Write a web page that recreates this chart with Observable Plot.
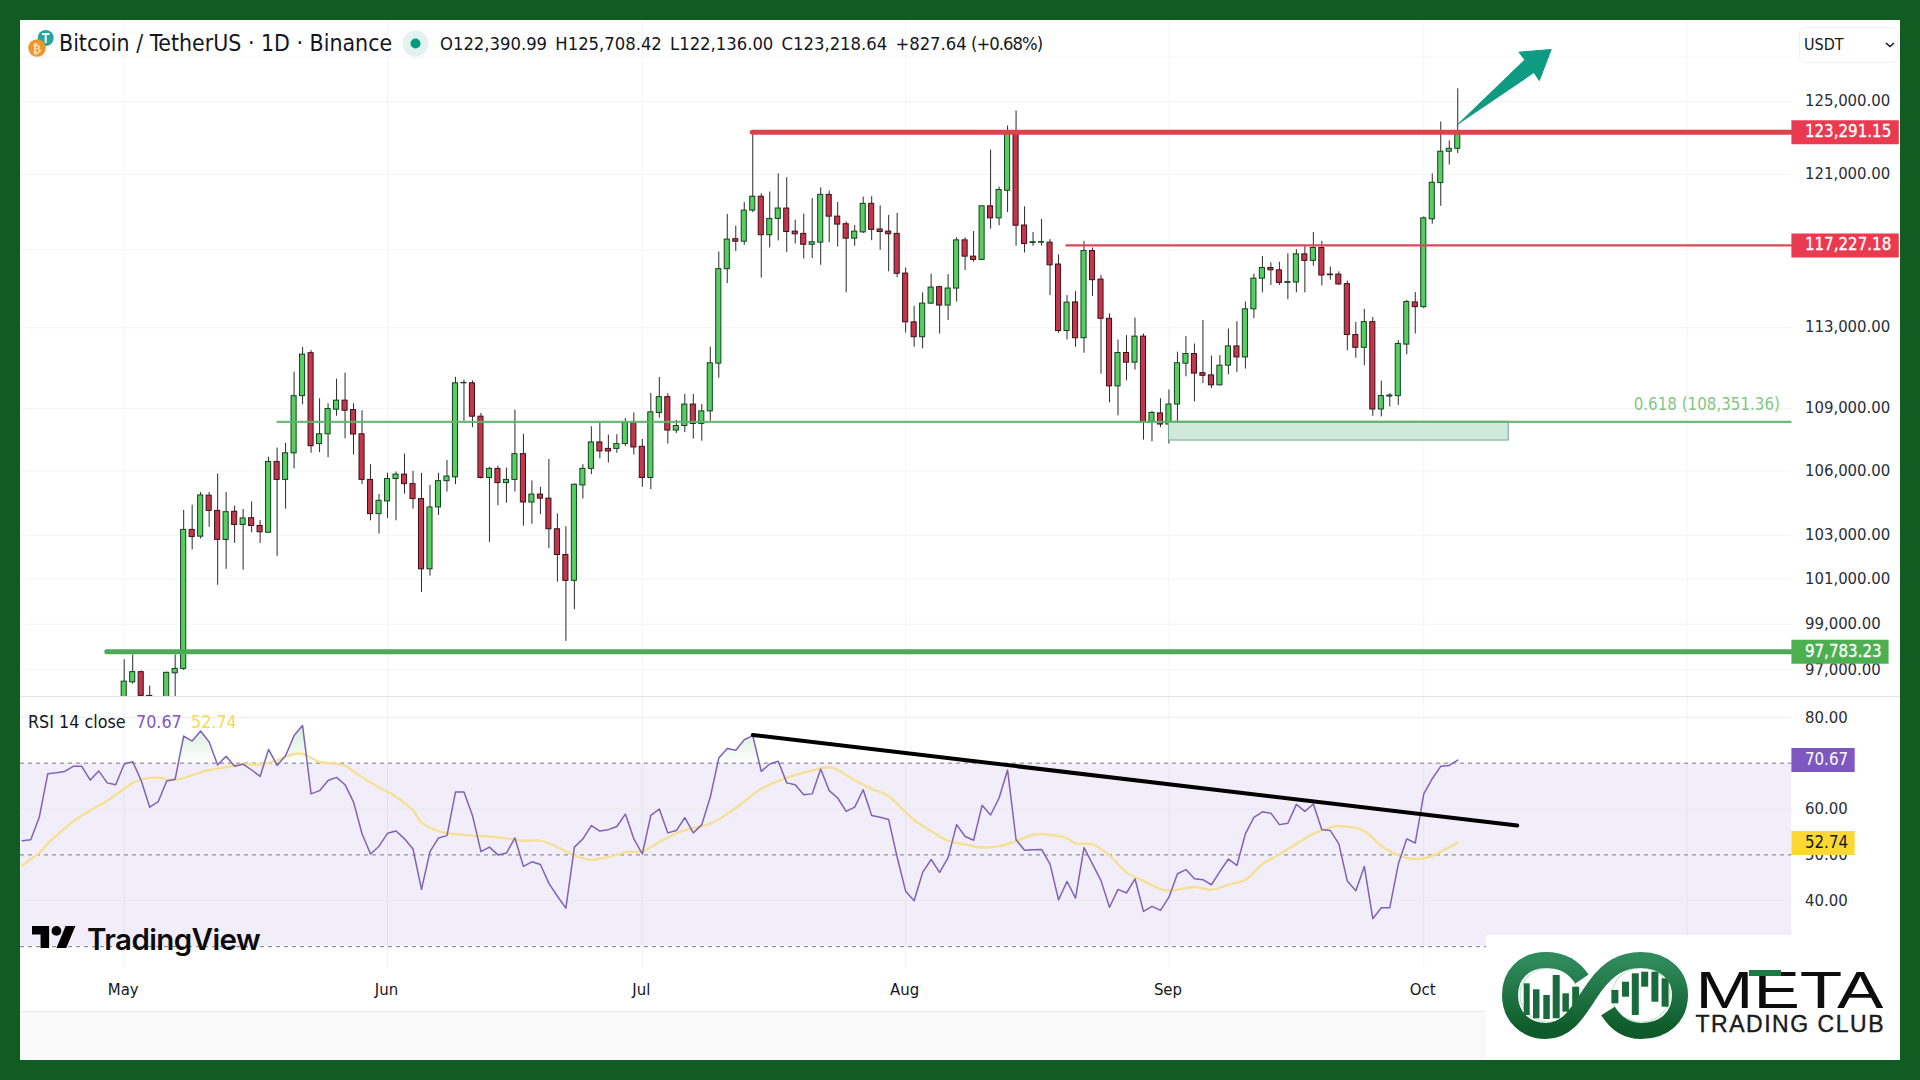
<!DOCTYPE html>
<html><head><meta charset="utf-8">
<script src="https://cdn.jsdelivr.net/npm/d3@7"></script>
<script src="https://cdn.jsdelivr.net/npm/@observablehq/plot@0.6"></script>
<style>
html,body{margin:0;padding:0;background:#115c21;}
#frame{position:relative;width:1920px;height:1080px;background:#115c21;overflow:hidden;font-family:'DejaVu Sans Condensed','DejaVu Sans',sans-serif;font-stretch:condensed;}
#panel{position:absolute;left:20px;top:20px;width:1880px;height:1040px;background:#fff;}
.abs{position:absolute;white-space:nowrap;}
#pricePane{position:absolute;left:20px;top:20px;}
#rsiPane{position:absolute;left:20px;top:697px;}
svg{display:block;}
</style></head><body>
<div id="frame">
  <div id="panel"></div>
  <div class="abs" style="left:20px;top:1011px;width:1880px;height:49px;background:#f9f9f9;border-top:1px solid #e9e9e9;box-sizing:border-box;"></div>
  <div id="pricePane"></div>
  <div id="rsiPane"></div>
  <div class="abs" style="left:20px;top:696px;width:1880px;height:1px;background:#e4e4e4;"></div>

  <svg class="abs" style="left:24px;top:28px;" width="36" height="36" viewBox="0 0 36 36">
    <circle cx="21.7" cy="10" r="8" fill="#26a69a"/><path d="M18 6h7.5M21.7 6v9" stroke="#fff" stroke-width="2"/>
    <circle cx="13" cy="20" r="8.8" fill="#f0952c"/><text x="13" y="24.5" text-anchor="middle" font-size="12" font-weight="bold" fill="#fbe0b8" font-family="DejaVu Sans">₿</text>
  </svg>
  <div class="abs" style="left:59px;top:29px;font-size:22.9px;line-height:28px;color:#131722;">Bitcoin / TetherUS · 1D · Binance</div>
  <svg class="abs" style="left:402px;top:30px;" width="27" height="27"><circle cx="13.5" cy="13.5" r="13" fill="#e3f1ef"/><circle cx="13.5" cy="13.5" r="5" fill="#089981"/></svg>
  <div class="abs" style="left:440px;top:32px;font-size:18.3px;line-height:24px;color:#131722;word-spacing:3px;">O122,390.99 H125,708.42 L122,136.00 C123,218.64 +827.64<span style="letter-spacing:-.95px;margin-left:-3px;"> (+0.68%)</span></div>

  <div class="abs" style="left:1799px;top:27px;width:99px;height:36px;border:1px solid #f0f1f3;border-radius:6px;box-sizing:border-box;"></div>
  <div class="abs" style="left:1804px;top:34px;font-size:16px;line-height:22px;color:#131722;">USDT</div>
  <svg class="abs" style="left:1884px;top:41px;" width="12" height="8"><path d="M2 2l4 3.5 4-3.5" fill="none" stroke="#131722" stroke-width="1.6"/></svg>

  <div class="abs" style="left:28px;top:710px;font-size:17.8px;line-height:24px;color:#131722;">RSI 14 close</div>
  <div class="abs" style="left:136px;top:710px;font-size:17.8px;line-height:24px;color:#7e57c2;">70.67</div>
  <div class="abs" style="left:191px;top:710px;font-size:17.8px;line-height:24px;color:#f6d95a;">52.74</div>

  <svg class="abs" style="left:32px;top:926px;" width="44" height="22" viewBox="0 4 36 18"><path d="M14 22H7V11H0V4h14v18zM28 22h-8l7.5-18h8L28 22z" fill="#000"/><circle cx="20" cy="8" r="4" fill="#000"/></svg>
  <div class="abs" style="left:87px;top:921px;font-family:Inter,'Open Sans',sans-serif;font-stretch:normal;font-weight:600;font-size:29.5px;line-height:36px;letter-spacing:-.6px;color:#0c0c0c;">TradingView</div>

  <svg class="abs" style="left:1486px;top:935px;z-index:5;" width="414" height="125">
    <defs><linearGradient id="mg" x1="0" y1="0" x2="0" y2="1"><stop offset="0" stop-color="#2f8a5c"/><stop offset="1" stop-color="#0e5a28"/></linearGradient></defs>
    <rect width="414" height="125" fill="#fff"/>
    <ellipse cx="63" cy="60" rx="29" ry="27" fill="none" stroke="#bfe3cb" stroke-width="1.2"/>
    <ellipse cx="155" cy="60" rx="29" ry="27" fill="none" stroke="#bfe3cb" stroke-width="1.2"/>
    <g fill="#1a6b3b">
      <rect x="37.7" y="48.3" width="6" height="31.7"/><rect x="47" y="54.3" width="6.5" height="29"/><rect x="57.3" y="60" width="6.5" height="24"/><rect x="66.7" y="40" width="7" height="43.3"/><rect x="76.4" y="58.3" width="6.5" height="18.4"/><rect x="86.2" y="51.7" width="7" height="21.6"/>
      <rect x="125.4" y="55" width="7" height="13.3"/><rect x="136" y="46.7" width="7" height="15"/><rect x="145.8" y="38.3" width="7" height="41.7"/><rect x="155.2" y="36.7" width="7" height="15"/><rect x="165.4" y="36.7" width="7" height="30"/><rect x="175.6" y="43.3" width="7" height="28.4"/>
    </g>
    <path d="M96,44 C85,28 72,25 60,25 C38,25 24,40 24,60 C24,82 40,96 60,96 C85,96 95,70 110,50 C122,34 135,25 155,25 C178,25 194,40 194,60 C194,82 178,96 155,96 C145,96 132,92 122,76" fill="none" stroke="url(#mg)" stroke-width="16"/>
    <text x="209.5" y="73.3" font-family="'Liberation Sans'" font-size="52" textLength="188" lengthAdjust="spacingAndGlyphs" fill="#0d0d0d">META</text>
    <rect x="263" y="35" width="32" height="6" fill="#1d7a45"/>
    <text x="209.5" y="96.7" font-family="'Liberation Sans'" font-size="23" textLength="188" lengthAdjust="spacing" fill="#1a1a1a" stroke="#1a1a1a" stroke-width="0.4">TRADING CLUB</text>
  </svg>
</div>
<script>
// Candles, one per day starting 1 May 2025
const firstCandleDay = Date.UTC(2025, 4, 1);
const openValues = [94170,96460,96900,95880,94320,94830,96850,97040,103250,102940,
104840,104130,102790,104090,103480,103790,103430,103120,106430,105580,
106840,109600,111720,107280,107750,108940,109380,108920,107750,105580,
103980,104570,105620,105830,105380,104680,101450,104290,105520,105700,
110230,110230,108600,105670,106100,105430,105580,106800,104520,104890,
104700,103280,102100,100930,105320,106100,107360,107050,107050,107280,
108300,107150,105670,108780,109550,107930,108150,109190,108250,108860,
111200,115990,117550,117420,119060,119800,117760,118620,119170,117950,
117830,117260,117370,119900,118740,118340,117580,117910,119420,118060,
117950,117830,115760,113270,112520,114220,115060,114120,114990,117490,
116640,116470,119290,118650,120120,123280,118270,117350,117370,117370,
116230,112830,114280,112470,116930,115450,113450,110080,111730,111250,
112550,108350,108760,108220,109190,111200,111680,110730,110620,110130,
111100,112060,111510,113930,115500,116050,115930,115280,115300,116760,
116420,117090,115710,115710,115220,112630,111990,113280,108950,109580,
109600,112150,114280,114040,118600,120530,122230,122390.99];
const closeValues = [96490,96900,95880,94300,94780,96870,97040,103250,102920,104850,
104130,102790,104070,103480,103780,103430,103140,106430,105580,106840,
109600,111650,107180,107750,108970,109380,108890,107740,105580,103980,
104600,105620,105830,105380,104680,101450,104290,105520,105740,110230,
110250,108600,105670,106100,105430,105580,106800,104520,104890,104700,
103280,102100,100930,105350,106100,107360,106930,106930,107280,108300,
107120,105670,108810,109550,107930,108150,109190,108250,108860,111220,
115990,117530,117420,119060,119800,117760,118620,119170,117930,117810,
117260,117390,119900,118740,118320,117580,117950,119420,118040,117930,
117810,115750,113270,112520,114220,115040,114120,114990,117490,116640,
116470,119290,118650,120160,123350,118260,117300,117390,117400,116190,
112830,114270,112470,116930,115420,113450,110080,111730,111250,112550,
108350,108780,108220,109190,111220,111680,110710,110600,110130,111100,
112060,111510,113930,115500,116050,115930,115280,115320,116760,116420,
117090,115660,115680,115200,112630,111990,113280,108950,109600,109630,
112180,114300,114040,118650,120550,122230,122390,123218.64];
const highValues = [97435,97650,96950,96300,95200,96900,97650,104150,104395,104990,
104990,105860,104990,104350,104190,104550,103680,106650,107090,107310,
110780,112000,111850,109470,109230,110430,110730,109230,108890,106300,
104900,105890,105950,106800,105980,105890,105320,105890,106500,110520,
110390,110350,108760,106170,106230,106140,108920,107750,105530,105230,
106550,103990,103400,105390,106300,108110,108300,107710,107730,108510,
108780,107500,109730,110520,109720,108420,109680,109680,109190,112020,
116880,118850,118240,119490,123240,119960,120050,121020,120820,118550,
118870,119700,120280,120100,119490,118460,118270,119780,119800,119310,
118800,118910,116050,114080,114770,115730,115110,115710,117630,117620,
117950,119290,122320,120320,123640,124470,119260,117900,118590,117530,
116730,114630,114830,117440,117090,115660,113700,112380,112600,113480,
112680,108860,109470,109900,111770,112550,112180,113360,111580,111600,
112930,113300,114300,115730,116650,116320,116350,116790,117000,117170,
117900,117440,116100,115850,115370,113270,113930,113520,110330,109730,
112350,114390,114790,118730,121020,123860,122820,125708.42];
const lowValues = [94000,96380,95300,94150,93500,93400,95800,96970,102330,102830,
103370,100730,101450,102630,101410,103120,102630,103100,102040,104210,
106100,109180,106840,106870,106630,108620,107530,106760,105360,103670,
103060,103780,103670,104910,104210,100410,101140,103920,105010,105360,
108380,108070,105620,102680,104370,104490,105010,103420,103510,103960,
102390,100870,98240,99640,104680,105830,106580,106380,106840,107170,
106760,105230,105120,108530,107280,107790,107830,107520,107420,108380,
110480,115250,116910,117230,118950,115530,117090,117460,116850,117300,
116520,116540,116190,117370,117140,114770,117180,117840,117470,116970,
115850,115540,112730,112020,111940,114170,112680,113360,114300,115920,
116350,116470,118080,118260,118960,117180,116830,117180,117190,114630,
112720,112380,112020,111720,114590,110680,109270,108640,110350,110880,
107470,107390,108070,107280,108350,110550,109320,110220,109970,110100,
110650,110770,110930,113450,114770,115150,115150,114420,114770,114770,
116140,115130,115420,115150,111850,111470,111100,108620,108590,109070,
109150,111640,112680,113960,118340,119290,121510,122136];

// RSI(14), daily, the last value being 5 Oct 2025
const rsiValues = [53.1,53.3,58.2,67.7,67.9,68.2,69.3,69.3,66.3,68.3,65.7,65.3,
69.8,70.3,66.2,60.4,61.6,66.1,66.5,75.9,74.8,77,
74.6,69.6,71.5,69.3,69.8,68.5,67.1,73,69.5,71.6,
76,78.2,63.3,64,66.2,66.9,65.3,61.5,54.6,50.2,
51.9,54.7,55.2,53.5,51.3,42.5,50.7,53.7,54.2,63.7,
63.7,58.6,50.7,51.7,50,50.4,53.7,47.5,48.5,47.9,
43.8,41,38.4,51.7,53.5,56.4,55.2,55.5,56.2,58.9,
53.5,50.2,58.6,60,54.8,55.3,58.1,54.8,56.6,62.6,
71.1,73.2,72.8,75.1,76,68.2,69.8,70.4,65.7,65.3,
63.1,63.3,68.7,64,62.4,59.5,60.4,64.2,58.6,58.2,
57.7,49.5,42.1,40,46.2,49,46.2,49.4,56.6,54,
53.2,60.8,58.7,62.4,68.5,53.3,51,51.1,51.2,48,
40.2,44.2,40.6,51.6,48,44.4,38.6,42.5,41.7,44.8,
37.7,38.8,37.9,40.8,45.9,46.8,44.8,44.6,43.5,46.4,
49.1,47.7,54.6,58.2,59.4,59.1,56.6,56.9,61,59.5,
61.1,55.5,55.3,52.4,44.3,42.2,47.5,36.1,38.5,38.5,
48,53.5,52.6,63.3,66.6,69.3,69.5,70.67];

// RSI moving average, read at these days after 1 May
const maDays = [-12,-11,-10,-9,-8,-6,-4,-2,0,1,2,3,4,6,8,10,12,14,16,18,19,20,21,23,25,26,28,30,32,34,35,37,39,41,43,45,47,49,51,53,55,56,58,59,60,61,63,65,67,69,72,75,78,81,83,84,86,88,90,92,93,95,97,99,101,103,105,107,109,111,112,114,116,118,120,122,123,126,128,130,132,134,136,138,140,142,143,146,148,150,152,154,156,157];
const maValues = [47.7,49.1,50.4,52.5,54.2,57.3,59.7,61.8,64.4,65.7,66.4,66.8,66.8,66.3,67.4,68.5,69.1,69.7,69.7,70.6,71.4,72,72,70.3,69.8,69.4,66.9,64.7,62.7,59.7,57.1,55.2,54.5,54.2,54,53.6,53.1,53.1,51.7,49.9,48.9,49.2,50,50.6,50.7,50.8,52.8,54.7,55.9,56.8,60.2,64.4,66.8,68.4,69.1,68.5,66.3,64.4,62.8,59.3,57.6,55.2,53.1,52.3,51.6,51.9,53,54.4,54.4,53.6,52.5,52.3,49.9,46.2,44.3,42.6,42.2,43,42.4,43.5,44.6,48,50.1,52.4,54.6,56,56.3,55.2,52,49.9,49.1,49.8,51.7,52.74];

const priceTicks = [125000,121000,113000,109000,106000,103000,101000,99000,97000];
const priceGrid = [127500,125000,121000,117000,113000,109000,106000,103000,101000,99000,97000];
const rsiTicks = [80,60,50,40];
const rsiGrid = [80,60,40];
const rsiLevels = [70,50,30];
const monthTicks = [4,5,6,7,8,9].map(m => new Date(Date.UTC(2025, m, 1)));
const monthGrid = [4,5,6,7,8,9,10].map(m => new Date(Date.UTC(2025, m, 1)));

const DAY = 864e5;
const at = d => new Date(firstCandleDay + d * DAY);

const xDomainDays = [-12.21, 196.34];
const xDomain = xDomainDays.map(at);
const xEnd = xDomain[1];

const candles = openValues.map((o, i) => ({
  date: at(i), x1: at(i - 0.3), x2: at(i + 0.3),
  open: o, close: closeValues[i], high: highValues[i], low: lowValues[i],
  up: closeValues[i] >= o
}));

const rsiSeries = rsiValues.map((v, i) => ({date: at(i - (rsiValues.length - openValues.length)), v}));
const maSeries = maDays.map((d, i) => ({date: at(d), v: maValues[i]}));

const priceLines = [
  {value: 123291.15, from: 74, width: 5, color: "#dd4150", tag: "123,291.15", tagColor: "#ea3a50", tagDays: 12.64},
  {value: 117227.18, from: 111, width: 2.4, color: "#d84a5c", tag: "117,227.18", tagColor: "#ea3a50", tagDays: 12.64},
  {value: 97783.23, from: -2, width: 5, color: "#4fa957", tag: "97,783.23", tagColor: "#4caf50", tagDays: 11.44}
];
const fibLevel = {value: 108351.36, from: 18, label: "0.618 (108,351.36)"};
const zoneBox = {fromDay: 123, toDay: 163, top: 108351.36, bottom: 107450};
const arrowDays = [156.9, 164.9, 164.2, 168, 166.6, 166];
const arrowPrices = [123680, 127346, 127782, 127934, 126176, 126610];
const arrow = arrowDays.map((d, i) => ({date: at(d), price: arrowPrices[i]}));

const FONT = "font-family:'DejaVu Sans Condensed','DejaVu Sans',sans-serif;font-stretch:condensed;background:transparent;";
const TICK = d3.format(",.2f");

const price = Plot.plot({
  width: 1880, height: 677, marginLeft: 0, marginRight: 108.6, marginTop: 0, marginBottom: 0,
  style: FONT,
  x: {type: "utc", domain: xDomain, axis: null},
  y: {type: "log", domain: [95810, 129601], axis: null},
  marks: [
    Plot.ruleY(priceGrid, {stroke: "#f3f4f5", strokeWidth: 1}),
    Plot.ruleX(monthGrid, {stroke: "#f3f4f5", strokeWidth: 1}),
    Plot.axisY({anchor: "right", ticks: priceTicks, tickSize: 0, tickPadding: 13, tickFormat: TICK, fontSize: 16.6, fill: "#2a2e39", dy: -0.5, label: null}),
    Plot.ruleX(candles, {x: "date", y1: "low", y2: "high", stroke: "#2b2b2b", strokeWidth: 1, clip: true}),
    Plot.rect(candles, {x1: "x1", x2: "x2", y1: "open", y2: "close", fill: d => d.up ? "#55cf62" : "#c5364a", stroke: d => d.up ? "#16401e" : "#3a1219", strokeWidth: 1, clip: true}),
    Plot.rect([zoneBox], {x1: d => at(d.fromDay), x2: d => at(d.toDay), y1: "bottom", y2: "top", fill: "#cfeadb", stroke: "#6fa58f", strokeWidth: 1}),
    Plot.ruleY([fibLevel], {y: "value", x1: d => at(d.from), x2: xEnd, stroke: "#5fb26a", strokeWidth: 2.4, strokeOpacity: 0.9}),
    Plot.text([fibLevel], {x: xEnd, y: "value", text: "label", dx: -12, dy: -17, textAnchor: "end", fill: "#81c784", fontSize: 16.8}),
    Plot.ruleY(priceLines, {y: "value", x1: d => at(d.from), x2: xEnd, stroke: "color", strokeWidth: "width", strokeLinecap: "round"}),
    Plot.line(arrow, {x: "date", y: "price", fill: "#0f9b82", stroke: "#0f9b82", strokeWidth: 1}),
    Plot.ruleY(priceLines, {y: "value", x1: xEnd, x2: d => at(xDomainDays[1] + d.tagDays), stroke: "tagColor", strokeWidth: 24}),
    Plot.text(priceLines, {x: xEnd, y: "value", text: "tag", dx: 13, dy: -0.5, textAnchor: "start", fill: "#fff", stroke: "#fff", strokeWidth: 0.3, fontSize: 16.8})
  ]
});
document.getElementById("pricePane").append(price);

const rsiTags = [
  {value: 70.67, text: "70.67", bg: "#7e57c2", fg: "#fff"},
  {value: 52.6, text: "52.74", bg: "#fdd835", fg: "#131722"}
];
const tagDaysRsi = 7.45;

const shadeDefs = () => {
  const g = d3.create("svg:defs");
  const lg = g.append("linearGradient").attr("id", "ob").attr("x1", 0).attr("y1", 0).attr("x2", 0).attr("y2", 1);
  lg.append("stop").attr("offset", 0).attr("stop-color", "#4caf50").attr("stop-opacity", 0.22);
  lg.append("stop").attr("offset", 1).attr("stop-color", "#4caf50").attr("stop-opacity", 0.02);
  return g.node();
};

const rsi = Plot.plot({
  width: 1880, height: 314, marginLeft: 0, marginRight: 108.6, marginTop: 0, marginBottom: 43,
  style: FONT,
  x: {type: "utc", domain: xDomain, axis: null},
  y: {domain: [25.25, 84.3], axis: null},
  marks: [
    shadeDefs,
    Plot.ruleX(monthGrid, {stroke: "#f1f2f3", strokeWidth: 1}),
    Plot.rect([{a: 30, b: 70}], {x1: xDomain[0], x2: xEnd, y1: "a", y2: "b", fill: "#7e57c2", fillOpacity: 0.1}),
    Plot.ruleY(rsiGrid, {stroke: "#e9e9ee", strokeWidth: 1}),
    Plot.ruleY(rsiLevels, {stroke: "#787b86", strokeWidth: 1, strokeDasharray: "4,4"}),
    Plot.axisY({anchor: "right", ticks: rsiTicks, tickSize: 0, tickPadding: 13, tickFormat: TICK, fontSize: 16.6, fill: "#2a2e39", label: null}),
    Plot.axisX({anchor: "bottom", ticks: monthTicks, tickSize: 0, tickPadding: 15, tickFormat: d3.utcFormat("%b"), fontSize: 16.6, fill: "#131722", stroke: "#131722", strokeWidth: 0.35, dx: -1, label: null}),
    Plot.areaY(rsiSeries, {x: "date", y1: 70, y2: d => Math.max(d.v, 70), fill: "url(#ob)"}),
    Plot.line(maSeries, {x: "date", y: "v", stroke: "#f5e096", strokeWidth: 2.4, curve: "catmull-rom"}),
    Plot.line(rsiSeries, {x: "date", y: "v", stroke: "#7e62b8", strokeWidth: 1.5, clip: true}),
    Plot.line([{date: at(74), v: 76.15}, {date: at(164), v: 56.4}], {x: "date", y: "v", stroke: "#000", strokeWidth: 4, strokeLinecap: "round"}),
    Plot.ruleY(rsiTags, {y: "value", x1: xEnd, x2: at(xDomainDays[1] + tagDaysRsi), stroke: "bg", strokeWidth: 24}),
    Plot.text(rsiTags, {x: xEnd, y: "value", text: "text", dx: 13, textAnchor: "start", fill: "fg", fontSize: 16.8})
  ]
});
document.getElementById("rsiPane").append(rsi);
</script>
</body></html>
